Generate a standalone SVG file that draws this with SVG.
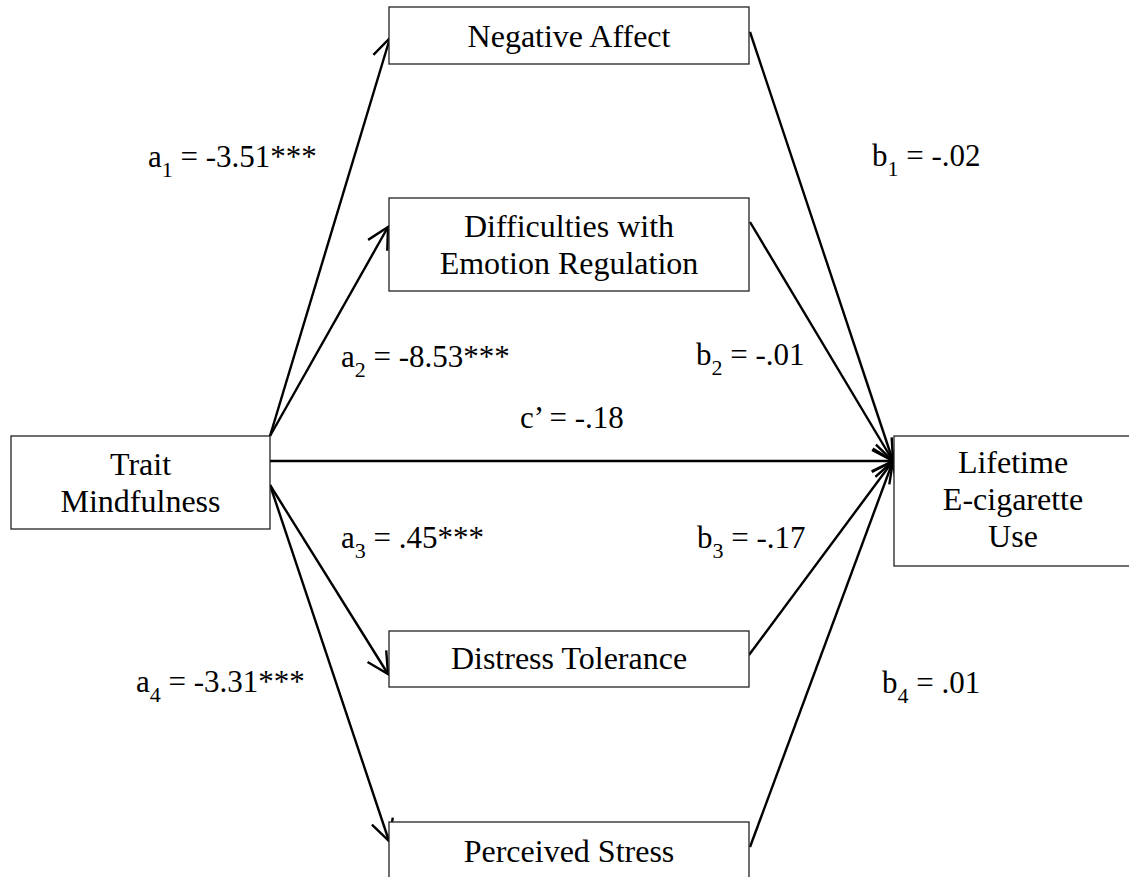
<svg xmlns="http://www.w3.org/2000/svg" width="1129" height="877" viewBox="0 0 1129 877">
<style>
.box{fill:#fff;stroke:#222;stroke-width:1.3}
.t{font-family:"Liberation Serif","Times New Roman",serif;font-size:32px;fill:#000;text-anchor:middle}
.l{font-family:"Liberation Serif","Times New Roman",serif;font-size:31px;fill:#000}
.s{font-size:22px}
.c{stroke:#000;stroke-width:2.4;fill:none}
</style>
<defs>
<marker id="ah" markerUnits="userSpaceOnUse" markerWidth="40" markerHeight="40" refX="0" refY="0" viewBox="-25 -20 30 40" orient="auto">
<path d="M-21,-11 L0,0 L-21,11" fill="none" stroke="#000" stroke-width="2.4"/>
</marker>
</defs>
<rect width="1129" height="877" fill="#fff"/>
<g id="connectors">
<line class="c" x1="270" y1="436" x2="390" y2="38" marker-end="url(#ah)"/>
<line class="c" x1="270" y1="436" x2="388" y2="227" marker-end="url(#ah)"/>
<line class="c" x1="270" y1="461" x2="893" y2="461" marker-end="url(#ah)"/>
<line class="c" x1="270" y1="485" x2="388" y2="674" marker-end="url(#ah)"/>
<line class="c" x1="270" y1="485" x2="389" y2="841" marker-end="url(#ah)"/>
<line class="c" x1="750" y1="32" x2="893" y2="461" marker-end="url(#ah)"/>
<line class="c" x1="750" y1="222" x2="893" y2="461" marker-end="url(#ah)"/>
<line class="c" x1="749" y1="655" x2="893" y2="461" marker-end="url(#ah)"/>
<line class="c" x1="750" y1="847" x2="893" y2="461" marker-end="url(#ah)"/>
</g>
<g id="node-negative-affect">
<rect class="box" x="389" y="7" width="360" height="57"/>
<text class="t" x="569" y="47">Negative Affect</text>
</g>
<g id="node-difficulties">
<rect class="box" x="389" y="198" width="360" height="93"/>
<text class="t" x="569" y="237">Difficulties with</text>
<text class="t" x="569" y="274">Emotion Regulation</text>
</g>
<g id="node-trait">
<rect class="box" x="11" y="436" width="259" height="93"/>
<text class="t" x="140.5" y="475">Trait</text>
<text class="t" x="140.5" y="512">Mindfulness</text>
</g>
<g id="node-lifetime">
<rect class="box" x="894" y="436" width="240" height="130"/>
<text class="t" x="1013" y="473">Lifetime</text>
<text class="t" x="1013" y="510">E-cigarette</text>
<text class="t" x="1013" y="547">Use</text>
</g>
<g id="node-distress">
<rect class="box" x="389" y="631" width="360" height="56"/>
<text class="t" x="569" y="669">Distress Tolerance</text>
</g>
<g id="node-stress">
<rect class="box" x="389" y="822" width="360" height="60"/>
<text class="t" x="569" y="862">Perceived Stress</text>
</g>
<g id="labels">
<text class="l" x="148" y="167">a<tspan class="s" dy="10">1</tspan><tspan dy="-10"> = -3.51***</tspan></text>
<text class="l" x="872" y="166">b<tspan class="s" dy="10">1</tspan><tspan dy="-10"> = -.02</tspan></text>
<text class="l" x="341" y="367">a<tspan class="s" dy="10">2</tspan><tspan dy="-10"> = -8.53***</tspan></text>
<text class="l" x="696" y="365">b<tspan class="s" dy="10">2</tspan><tspan dy="-10"> = -.01</tspan></text>
<text class="l" x="520" y="428">c’ = -.18</text>
<text class="l" x="341" y="548">a<tspan class="s" dy="10">3</tspan><tspan dy="-10"> = .45***</tspan></text>
<text class="l" x="697" y="548">b<tspan class="s" dy="10">3</tspan><tspan dy="-10"> = -.17</tspan></text>
<text class="l" x="136" y="692">a<tspan class="s" dy="10">4</tspan><tspan dy="-10"> = -3.31***</tspan></text>
<text class="l" x="882" y="693">b<tspan class="s" dy="10">4</tspan><tspan dy="-10"> = .01</tspan></text>
</g>
</svg>
